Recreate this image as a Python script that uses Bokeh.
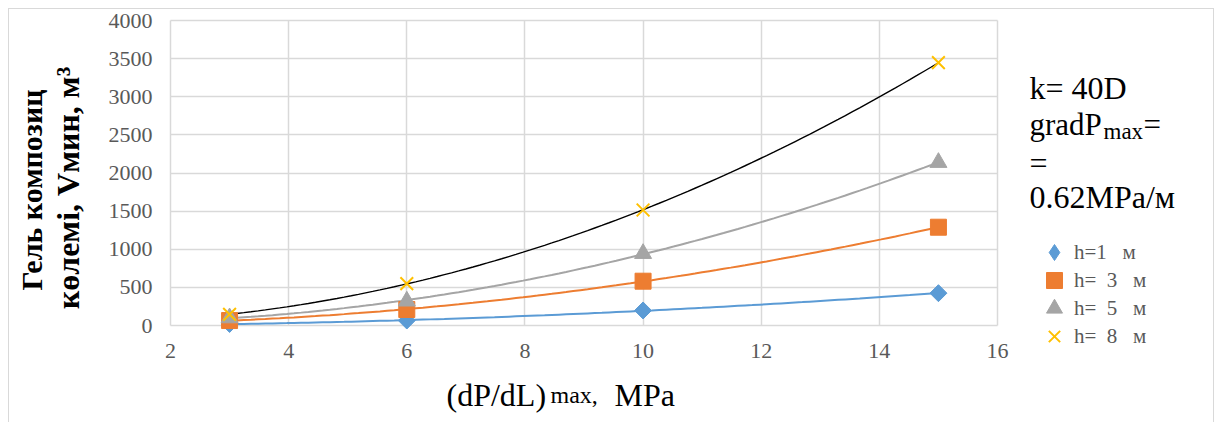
import numpy as np
from bokeh.plotting import figure
from bokeh.models import Label, Legend, LegendItem, Range1d, FixedTicker
from bokeh.embed import file_html
from bokeh.resources import INLINE

# ---- data ----
x_vals = [3, 6, 10, 15]
h1 = [20, 65, 197, 424]
h3 = [65, 210, 581, 1289]
h5 = [100, 320, 944, 2138]
h8 = [145, 550, 1515, 3447]
series_labels = ["h=1\u00a0\u00a0\u00a0м", "h=\u00a0\u00a03\u00a0\u00a0\u00a0м",
                 "h=\u00a0\u00a05\u00a0\u00a0\u00a0м", "h=\u00a0\u00a08\u00a0\u00a0\u00a0м"]
x_ticks = [2, 4, 6, 8, 10, 12, 14, 16]
y_ticks = [0, 500, 1000, 1500, 2000, 2500, 3000, 3500, 4000]
X0, X1 = 2, 16
Y0, Y1 = 0, 4000

# ---- layout (canvas pixels) ----
W, H = 1206, 414
PL, PR, PT, PB = 161, 988, 11, 316   # plot-area edges

sx = (X1 - X0) / (PR - PL)
sy = (Y1 - Y0) / (PB - PT)
x_range = Range1d(X0 - PL * sx, X1 + (W - PR) * sx)
y_range = Range1d(Y0 - (H - PB) * sy, Y1 + PT * sy)

p = figure(width=W, height=H, output_backend="svg", toolbar_location=None,
           x_range=x_range, y_range=y_range,
           min_border=0, min_border_left=0, min_border_right=0,
           min_border_top=0, min_border_bottom=0,
           styles={"margin-left": "8px", "margin-top": "8px",
                   "border-left": "1px solid #D9D9D9", "border-top": "1px solid #D9D9D9",
                   "border-right": "1px solid #D9D9D9"})
p.outline_line_color = None
p.background_fill_color = "white"
p.border_fill_color = "white"
p.xgrid.visible = False
p.ygrid.visible = False

xa, ya = p.xaxis[0], p.yaxis[0]
xa.fixed_location = Y0
ya.fixed_location = X0
xa.bounds = (X0, X1)
ya.bounds = (Y0, Y1)
xa.ticker = FixedTicker(ticks=x_ticks)
ya.ticker = FixedTicker(ticks=y_ticks)
for ax, span in ((xa, PB - PT), (ya, PR - PL)):
    ax.level = "underlay"
    ax.axis_line_color = None
    ax.minor_tick_line_color = None
    ax.major_tick_out = 0
    ax.major_tick_in = span            # ticks drawn across the plot act as grid lines
    ax.major_tick_line_color = "#D9D9D9"
    ax.major_tick_line_width = 1.5
    ax.major_label_text_font = "Liberation Serif"
    ax.major_label_text_font_size = "22px"
    ax.major_label_text_color = "#595959"
xa.major_label_standoff = 18
ya.major_label_standoff = 18

# ---- trend lines (2nd order polynomial fits) ----
xs_fit = np.linspace(3, 15, 100)
line_colors = ["#5B9BD5", "#ED7D31", "#A5A5A5", "#000000"]
line_widths = [2, 2, 2, 1.4]
for ys, c, lw in zip([h1, h3, h5, h8], line_colors, line_widths):
    coef = np.polyfit(x_vals, ys, 2)
    p.line(xs_fit, np.polyval(coef, xs_fit), line_color=c, line_width=lw)

# ---- markers ----
# diamond swatch renderer for the legend (sits hidden under the rotated squares)
r1_key = p.scatter(x_vals, h1, marker="diamond", size=12,
                   fill_color="#5B9BD5", line_color="#5B9BD5")
r1 = p.scatter(x_vals, h1, marker="square", angle=np.pi / 4, size=12,
               fill_color="#5B9BD5", line_color="#5B9BD5")
r3 = p.scatter(x_vals, h3, marker="square", size=16,
               fill_color="#ED7D31", line_color="#ED7D31")
r5 = p.scatter(x_vals, h5, marker="triangle", size=17,
               fill_color="#A5A5A5", line_color="#A5A5A5")
r8 = p.scatter(x_vals, h8, marker="x", size=18,
               line_color="#FFC000", line_width=2)

# one small legend per entry so that entries can sit closer than the glyph box
GB = 40          # glyph box (marker size = 0.4 * GB)
for i, (l, r) in enumerate(zip(series_labels, [r1_key, r3, r5, r8])):
    yc = 243 + 28 * i
    lg = Legend(items=[LegendItem(label=l, renderers=[r])],
                location=(1025, H - (yc + GB // 2)), orientation="vertical",
                label_text_font="Liberation Serif", label_text_font_size="21px",
                label_text_color="#595959", label_height=28,
                glyph_height=GB, glyph_width=GB,
                label_standoff=0, spacing=0, padding=0, margin=0,
                border_line_color=None, background_fill_alpha=0)
    p.add_layout(lg, "center")

# ---- texts (canvas coordinates) ----
def lab(text, x, y, size, bold=False, angle=0, color="black"):
    p.add_layout(Label(text=text, x=x, y=y, x_units="canvas", y_units="canvas",
                       angle=angle, text_font="Liberation Serif", text_font_size=size,
                       text_font_style="bold" if bold else "normal",
                       text_color=color, text_align="left" if angle == 0 else "center",
                       text_baseline="alphabetic"))

lab("Гель композиц", 21, 179.5, "30px", bold=True, angle=np.pi / 2)
lab("көлемі, Vмин, м³", 57, 177.5, "32px", bold=True, angle=np.pi / 2)

lab("(dP/dL)", 436, 384, "32px")
lab("max,", 540, 384, "24px")
lab("MPa", 604, 384, "32px")

lab("k= 40D", 1019, 77, "32px")
lab("gradP", 1019, 114, "31px")
lab("max", 1093, 121, "23px")
lab("=", 1133, 114, "31px")
lab("=", 1019, 152, "32px")
lab("0.62MPa/м", 1019, 186, "32px")

open("out.html", "w").write(file_html(p, INLINE))
